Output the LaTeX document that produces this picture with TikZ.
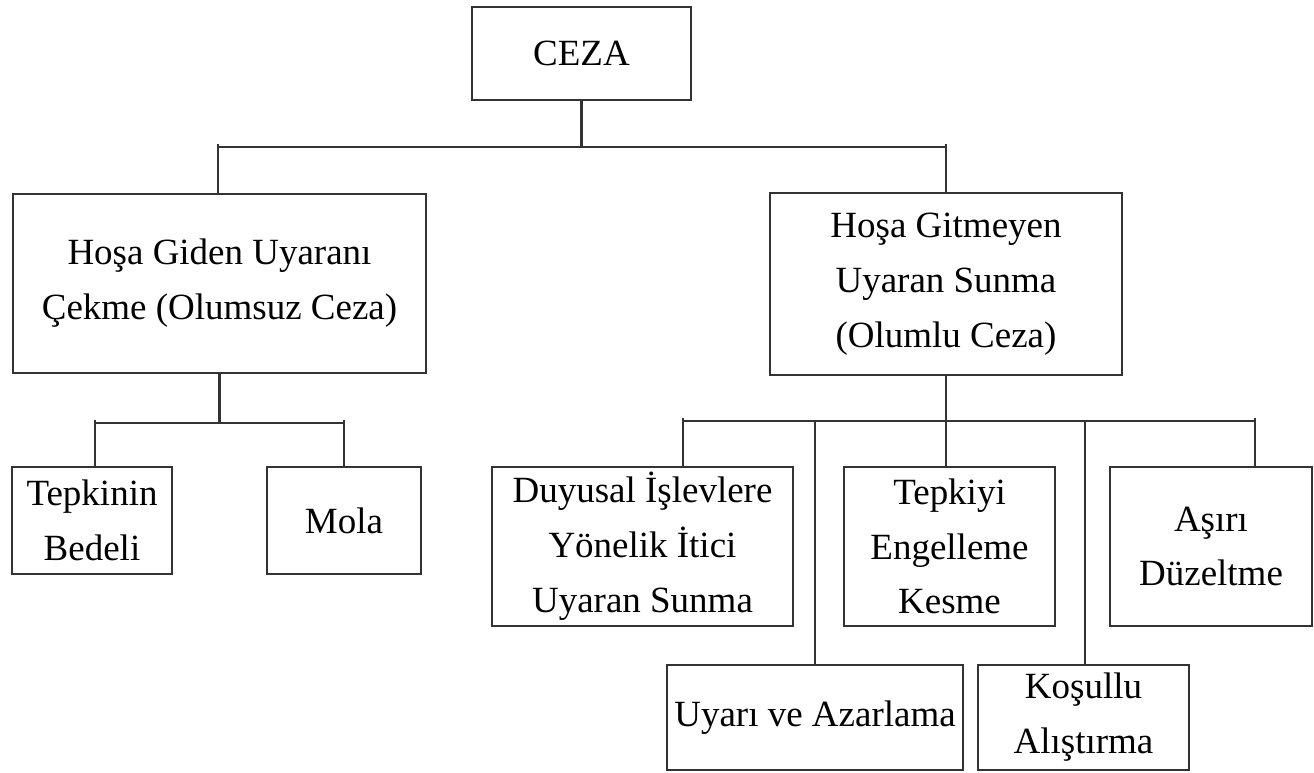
\documentclass[tikz,border=0pt]{standalone}
\usepackage{fontspec}
\setmainfont{Liberation Serif}
\usetikzlibrary{positioning}

\newcommand{\unitpx}{0.025cm}

\begin{document}
\begin{tikzpicture}[x=\unitpx, y=-\unitpx, line join=miter,
    kutu/.style={draw=black!80, line width=1.6pt, inner sep=0pt, align=center,
        font=\fontsize{26.3}{39}\selectfont},
    hat/.style={draw=black!80, line width=1.6pt},
    uc/.style={shorten <=-2pt}]
    \useasboundingbox (0,0) rectangle (1314,773);

    % --- Kutular ---
    \node[kutu, minimum width=219*\unitpx, minimum height=93*\unitpx] (ceza) at (581.5,53.5) {CEZA};

    \node[kutu, minimum width=413*\unitpx, minimum height=179*\unitpx] (sol) at (219.5,283.5)
        {Hoşa Giden Uyaranı\\Çekme (Olumsuz Ceza)};
    \node[kutu, minimum width=352*\unitpx, minimum height=182*\unitpx] (sag) at (946,284)
        {Hoşa Gitmeyen\\Uyaran Sunma\\(Olumlu Ceza)};

    \node[kutu, minimum width=160*\unitpx, minimum height=107*\unitpx] (tepkinin) at (92,520.5)
        {Tepkinin\\Bedeli};
    \node[kutu, minimum width=154*\unitpx, minimum height=107*\unitpx] (mola) at (344,520.5) {Mola};

    \node[kutu, minimum width=301*\unitpx, minimum height=159*\unitpx] (duyusal) at (642.5,546.5)
        {Duyusal İşlevlere\\Yönelik İtici\\Uyaran Sunma};
    \node[kutu, minimum width=211*\unitpx, minimum height=159*\unitpx] (tepkiyi) at (949.5,546.5)
        {Tepkiyi\\Engelleme\\Kesme};
    \node[kutu, minimum width=202*\unitpx, minimum height=159*\unitpx] (asiri) at (1211,546.5)
        {Aşırı\\Düzeltme};
    \node[kutu, minimum width=296*\unitpx, minimum height=105*\unitpx] (uyari) at (815,717.5)
        {Uyarı ve Azarlama};
    \node[kutu, minimum width=211*\unitpx, minimum height=105*\unitpx] (kosullu) at (1083.5,717.5)
        {Koşullu\\Alıştırma};

    % --- Ust seviye ---
    \coordinate (ustsol) at (218,147);
    \coordinate (ustsag) at (946,147);
    \draw[hat] (ceza.south) -- (ceza.south |- ustsol);
    \draw[hat] (ustsol) -- (ustsag);
    \draw[hat, uc] (ustsol) -- (ustsol |- sol.north);
    \draw[hat, uc] (ustsag) -- (ustsag |- sag.north);

    % --- Olumsuz ceza dallari ---
    \coordinate (solalt1) at (95,423);
    \coordinate (solalt2) at (344,423);
    \draw[hat] (sol.south) -- (sol.south |- solalt1);
    \draw[hat] (solalt1) -- (solalt2);
    \draw[hat, uc] (solalt1) -- (solalt1 |- tepkinin.north);
    \draw[hat, uc] (solalt2) -- (solalt2 |- mola.north);

    % --- Olumlu ceza dallari ---
    \coordinate (sagalt1) at (683,421);
    \coordinate (sagalt2) at (815,421);
    \coordinate (sagalt3) at (946,421);
    \coordinate (sagalt4) at (1085,421);
    \coordinate (sagalt5) at (1255,421);
    \draw[hat] (sag.south) -- (sagalt3);
    \draw[hat] (sagalt1) -- (sagalt5);
    \draw[hat, uc] (sagalt1) -- (sagalt1 |- duyusal.north);
    \draw[hat] (sagalt2) -- (uyari.north);
    \draw[hat] (sagalt3) -- (sagalt3 |- tepkiyi.north);
    \draw[hat] (sagalt4) -- (sagalt4 |- kosullu.north);
    \draw[hat, uc] (sagalt5) -- (sagalt5 |- asiri.north);

\end{tikzpicture}
\end{document}
